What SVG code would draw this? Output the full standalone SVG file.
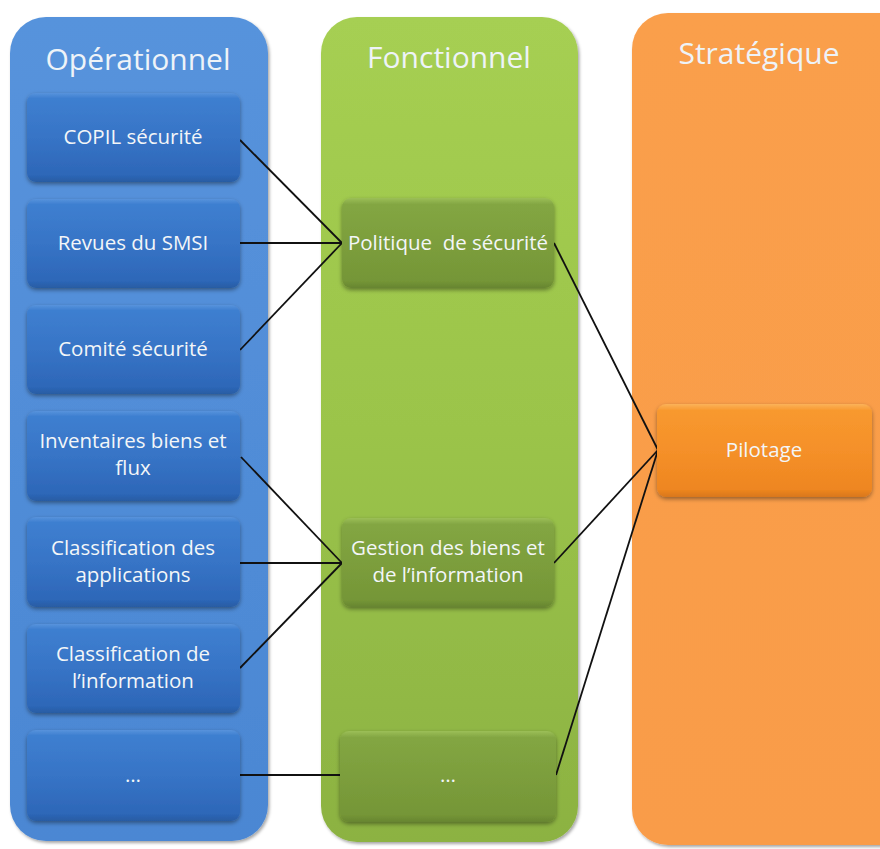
<svg xmlns="http://www.w3.org/2000/svg" width="880" height="849" viewBox="0 0 880 849">
  <defs>
    <linearGradient id="gBlueCol" x1="0" y1="0" x2="0" y2="1">
      <stop offset="0" stop-color="#5793dc"/>
      <stop offset="1" stop-color="#4b87d3"/>
    </linearGradient>
    <linearGradient id="gGreenCol" x1="0" y1="0" x2="0" y2="1">
      <stop offset="0" stop-color="#a6cf52"/>
      <stop offset="0.5" stop-color="#9bc44a"/>
      <stop offset="1" stop-color="#8cb242"/>
    </linearGradient>
    <linearGradient id="gOrangeCol" x1="0" y1="0" x2="0" y2="1">
      <stop offset="0" stop-color="#fa9f4c"/>
      <stop offset="1" stop-color="#f99c48"/>
    </linearGradient>
    <linearGradient id="gBlueBox" x1="0" y1="0" x2="0" y2="1">
      <stop offset="0" stop-color="#5893dc"/>
      <stop offset="0.06" stop-color="#3e7fd0"/>
      <stop offset="0.5" stop-color="#3774c6"/>
      <stop offset="0.92" stop-color="#2d67b8"/>
      <stop offset="1" stop-color="#285ca3"/>
    </linearGradient>
    <linearGradient id="gGreenBox" x1="0" y1="0" x2="0" y2="1">
      <stop offset="0" stop-color="#9cbf58"/>
      <stop offset="0.07" stop-color="#83a643"/>
      <stop offset="0.5" stop-color="#7c9e3c"/>
      <stop offset="0.92" stop-color="#759637"/>
      <stop offset="1" stop-color="#678530"/>
    </linearGradient>
    <linearGradient id="gOrangeBox" x1="0" y1="0" x2="0" y2="1">
      <stop offset="0" stop-color="#fbb25a"/>
      <stop offset="0.07" stop-color="#f8992f"/>
      <stop offset="0.5" stop-color="#f59029"/>
      <stop offset="0.92" stop-color="#ee8620"/>
      <stop offset="1" stop-color="#d9771a"/>
    </linearGradient>
    <filter id="colShadow" x="-10%" y="-10%" width="120%" height="120%">
      <feDropShadow dx="1.5" dy="2" stdDeviation="1.5" flood-color="#000" flood-opacity="0.35"/>
    </filter>
    <filter id="boxShadow" x="-10%" y="-10%" width="120%" height="130%">
      <feDropShadow dx="0" dy="2" stdDeviation="2" flood-color="#000" flood-opacity="0.4"/>
    </filter>
  </defs>
  <style>
    .head { font-family: "Open Sans", "Liberation Sans", sans-serif; font-size: 30px; fill: #eef3f8; text-anchor: middle; }
    .lbl { font-family: "Open Sans", "Liberation Sans", sans-serif; font-size: 20.5px; fill: #f3f6f8; text-anchor: middle; }
    .blue { fill: url(#gBlueBox); filter: url(#boxShadow); }
    .green { fill: url(#gGreenBox); filter: url(#boxShadow); }
    .orange { fill: url(#gOrangeBox); filter: url(#boxShadow); }
    .conn line { stroke: #111; stroke-width: 1.8; }
  </style>

  <rect width="880" height="849" fill="#ffffff"/>

  <!-- Columns -->
  <g id="col-operationnel">
    <rect x="10" y="17" width="258" height="824" rx="36" fill="url(#gBlueCol)" filter="url(#colShadow)"/>
    <text class="head" x="138" y="70">Opérationnel</text>
  </g>
  <g id="col-fonctionnel">
    <rect x="321" y="17" width="257" height="825" rx="36" fill="url(#gGreenCol)" filter="url(#colShadow)"/>
    <text class="head" x="449" y="68">Fonctionnel</text>
  </g>
  <g id="col-strategique">
    <rect x="632" y="13" width="290" height="832" rx="36" fill="url(#gOrangeCol)" filter="url(#colShadow)"/>
    <text class="head" x="759" y="64">Stratégique</text>
  </g>

  <!-- Connectors -->
  <g id="connectors" class="conn">
    <line x1="240" y1="140" x2="342" y2="243"/>
    <line x1="240" y1="243" x2="342" y2="243"/>
    <line x1="240" y1="350" x2="342" y2="243"/>
    <line x1="241" y1="457" x2="342" y2="563"/>
    <line x1="240" y1="563" x2="342" y2="563"/>
    <line x1="240" y1="668" x2="342" y2="563"/>
    <line x1="240" y1="775" x2="340" y2="775"/>
    <line x1="554" y1="243" x2="658" y2="450"/>
    <line x1="554" y1="563" x2="658" y2="450"/>
    <line x1="556" y1="775" x2="658" y2="450"/>
  </g>

  <!-- Operational nodes -->
  <g id="n-copil">
    <rect class="blue" x="27" y="93" width="213" height="89" rx="9"/>
    <text class="lbl" x="133" y="144">COPIL sécurité</text>
  </g>
  <g id="n-revues">
    <rect class="blue" x="27" y="199" width="213" height="89" rx="9"/>
    <text class="lbl" x="133" y="250">Revues du SMSI</text>
  </g>
  <g id="n-comite">
    <rect class="blue" x="27" y="305" width="213" height="89" rx="9"/>
    <text class="lbl" x="133" y="356">Comité sécurité</text>
  </g>
  <g id="n-inventaires">
    <rect class="blue" x="27" y="411" width="213" height="90" rx="9"/>
    <text class="lbl" x="133" y="448">Inventaires biens et</text>
    <text class="lbl" x="133" y="475">flux</text>
  </g>
  <g id="n-classif-app">
    <rect class="blue" x="27" y="517" width="213" height="90" rx="9"/>
    <text class="lbl" x="133" y="555">Classification des</text>
    <text class="lbl" x="133" y="582">applications</text>
  </g>
  <g id="n-classif-info">
    <rect class="blue" x="27" y="624" width="213" height="89" rx="9"/>
    <text class="lbl" x="133" y="661">Classification de</text>
    <text class="lbl" x="133" y="688">l’information</text>
  </g>
  <g id="n-ops-more">
    <rect class="blue" x="27" y="730" width="213" height="91" rx="9"/>
    <text class="lbl" x="133" y="782">…</text>
  </g>

  <!-- Functional nodes -->
  <g id="n-politique">
    <rect class="green" x="342" y="198" width="212" height="90" rx="9"/>
    <text class="lbl" x="448" y="250" style="white-space: pre">Politique  de sécurité</text>
  </g>
  <g id="n-gestion">
    <rect class="green" x="342" y="518" width="212" height="89" rx="9"/>
    <text class="lbl" x="448" y="555">Gestion des biens et</text>
    <text class="lbl" x="448" y="582">de l’information</text>
  </g>
  <g id="n-fonc-more">
    <rect class="green" x="340" y="731" width="216" height="91" rx="9"/>
    <text class="lbl" x="448" y="782">…</text>
  </g>

  <!-- Strategic node -->
  <g id="n-pilotage">
    <rect class="orange" x="657" y="404" width="215" height="93" rx="9"/>
    <text class="lbl" x="764" y="457">Pilotage</text>
  </g>
</svg>
